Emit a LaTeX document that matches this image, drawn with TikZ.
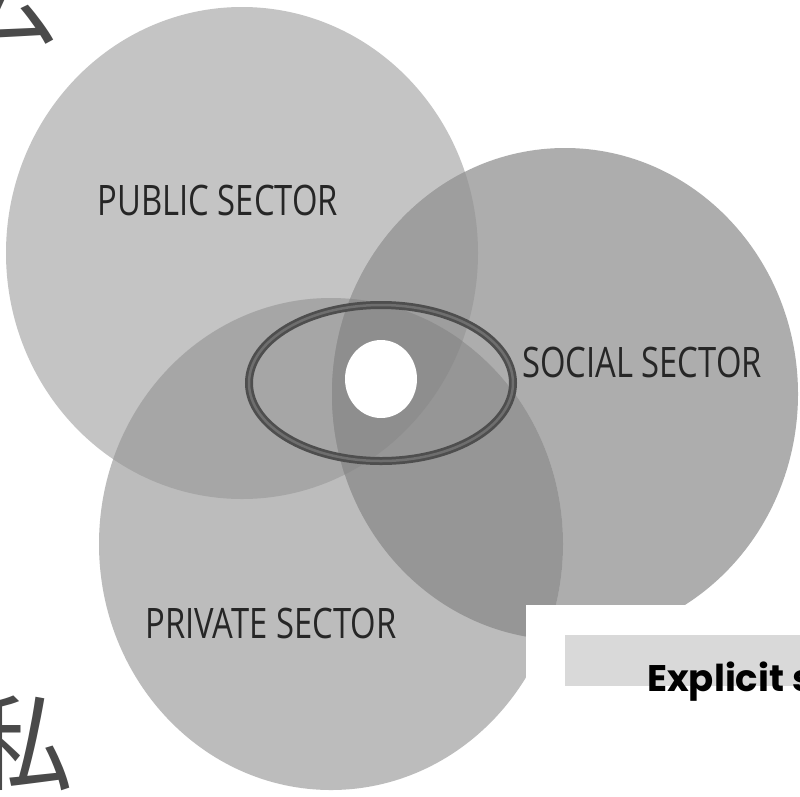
\documentclass[tikz,border=0pt]{standalone}
\usepackage{fontspec}
\newfontfamily\labfont{Open Sans}
\newfontfamily\boxfont{Poppins}
\newfontfamily\cjk{Noto Sans CJK JP}
\definecolor{pubc}{HTML}{C4C4C4}
\definecolor{socc}{HTML}{ADADAD}
\definecolor{prvc}{HTML}{BCBCBC}
\definecolor{pubprv}{HTML}{A6A6A6}
\definecolor{pubsoc}{HTML}{9E9E9E}
\definecolor{socprv}{HTML}{969696}
\definecolor{allc}{HTML}{8E8E8E}
\definecolor{ringc}{HTML}{4E4E4E}
\definecolor{ringl}{HTML}{6E6E6E}
\definecolor{labc}{HTML}{262626}
\definecolor{boxc}{HTML}{D9D9D9}
\definecolor{cjkc}{HTML}{4A4A4A}
\begin{document}
\begin{tikzpicture}[x=1pt,y=-1pt,
  sector/.style={font=\labfont\fontsize{42}{42}\selectfont, text=labc, anchor=base, xscale=0.78, transform shape, inner sep=0pt},
  bigchar/.style={font=\cjk\fontsize{104}{104}\selectfont, text=cjkc, inner sep=0pt}]
\useasboundingbox (0,0) rectangle (800,796);
\fill[white] (0,0) rectangle (800,796);
% CJK characters
\node[bigchar] (gong) at (10,-2) {公};
\node[bigchar] (si) at (22,743) {私};
% circles
\fill[pubc] (242,253) ellipse [x radius=236pt, y radius=246pt];
\fill[socc] (565,394) ellipse [x radius=233pt, y radius=246pt];
\fill[prvc] (331,544) ellipse [x radius=232pt, y radius=246pt];
\begin{scope}
  \clip (242,253) ellipse [x radius=236pt, y radius=246pt];
  \fill[pubprv] (331,544) ellipse [x radius=232pt, y radius=246pt];
  \fill[pubsoc] (565,394) ellipse [x radius=233pt, y radius=246pt];
\end{scope}
\begin{scope}
  \clip (565,394) ellipse [x radius=233pt, y radius=246pt];
  \fill[socprv] (331,544) ellipse [x radius=232pt, y radius=246pt];
  \clip (242,253) ellipse [x radius=236pt, y radius=246pt];
  \fill[allc] (331,544) ellipse [x radius=232pt, y radius=246pt];
\end{scope}
% ring and centre
\draw[ringc, line width=8pt] (381,383) ellipse [x radius=132pt, y radius=78pt];
\draw[ringl, line width=2.5pt] (381,383) ellipse [x radius=132pt, y radius=78pt];
\fill[white] (381,379) ellipse [x radius=36pt, y radius=39pt];
% labels
\node[sector] (pub) at (218,215) {PUBLIC SECTOR};
\node[sector] (soc) at (642,377) {SOCIAL SECTOR};
\node[sector] (prv) at (271,638) {PRIVATE SECTOR};
% bottom-right panel
\fill[white] (526,605) rectangle (800,796);
\fill[boxc] (565,635) rectangle (800,686);
\node[font=\boxfont\bfseries\fontsize{37}{37}\selectfont, anchor=base west, inner sep=0pt, text=black] (expl) at (647,691) {Explicit s};
\end{tikzpicture}
\end{document}
